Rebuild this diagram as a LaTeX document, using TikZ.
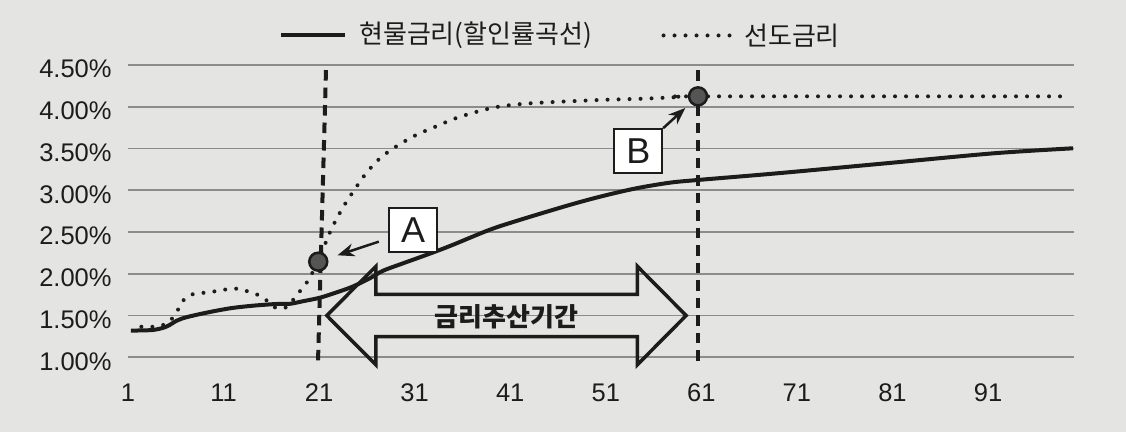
\documentclass[tikz,border=0pt]{standalone}
\usepackage{fontspec}
\setmainfont{Liberation Sans}
\newfontfamily\krfont{Noto Sans CJK KR}
\usetikzlibrary{arrows.meta}
\definecolor{bgcol}{RGB}{228,228,227}
\definecolor{gridcol}{RGB}{140,140,140}
\definecolor{inkcol}{RGB}{28,28,28}
\definecolor{dotcol}{RGB}{85,85,85}

\begin{document}
\begin{tikzpicture}[x=9.556pt, y=83.5pt,
    gridline/.style={gridcol, line width=1.6pt},
    spot/.style={inkcol, line width=4pt, line join=round},
    fwd/.style={inkcol, line width=4pt, line cap=round, dash pattern=on 0pt off 11pt},
    markline/.style={inkcol, line width=4pt, dash pattern=on 10.5pt off 7pt},
    span/.style={inkcol, line width=3.5pt, line join=miter},
    ticklabel/.style={font=\fontsize{25.5}{30}\selectfont, text=inkcol, inner sep=0pt},
    legendtext/.style={font=\krfont\fontsize{26}{30}\selectfont, text=inkcol, inner sep=0pt, anchor=west},
    spantext/.style={font=\krfont\bfseries\fontsize{26}{30}\selectfont, text=inkcol, inner sep=0pt},
    point/.style={circle, draw=inkcol, fill=dotcol, line width=2.5pt, minimum size=18pt, inner sep=0pt},
    tagbox/.style={rectangle, draw=inkcol, fill=white, line width=1.8pt, minimum width=48pt, minimum height=44pt, inner sep=0pt, font=\fontsize{36}{40}\selectfont, text=inkcol},
    arrow/.style={inkcol, line width=2.5pt, -{Stealth[length=17pt, width=13pt]}}
  ]
    % Background
    \path[use as bounding box, fill=bgcol] (-12.395,0.1054) rectangle (105.44,5.279);

    % Grid
    \draw[gridline] (1,1) -- (100,1);
    \draw[gridline] (1,1.5) -- (100,1.5);
    \draw[gridline] (1,2) -- (100,2);
    \draw[gridline] (1,2.5) -- (100,2.5);
    \draw[gridline] (1,3) -- (100,3);
    \draw[gridline] (1,3.5) -- (100,3.5);
    \draw[gridline] (1,4) -- (100,4);
    \draw[gridline] (1,4.5) -- (100,4.5);

    % Axis labels
    \node (y_100) [ticklabel, anchor=east, yshift=-4pt] at (-0.7,1) {1.00\%};
    \node (y_150) [ticklabel, anchor=east, yshift=-4pt] at (-0.7,1.5) {1.50\%};
    \node (y_200) [ticklabel, anchor=east, yshift=-4pt] at (-0.7,2) {2.00\%};
    \node (y_250) [ticklabel, anchor=east, yshift=-4pt] at (-0.7,2.5) {2.50\%};
    \node (y_300) [ticklabel, anchor=east, yshift=-4pt] at (-0.7,3) {3.00\%};
    \node (y_350) [ticklabel, anchor=east, yshift=-4pt] at (-0.7,3.5) {3.50\%};
    \node (y_400) [ticklabel, anchor=east, yshift=-4pt] at (-0.7,4) {4.00\%};
    \node (y_450) [ticklabel, anchor=east, yshift=-4pt] at (-0.7,4.5) {4.50\%};
    \node (x_1) [ticklabel] at (1,0.576) {1};
    \node (x_11) [ticklabel] at (11,0.576) {11};
    \node (x_21) [ticklabel] at (21,0.576) {21};
    \node (x_31) [ticklabel] at (31,0.576) {31};
    \node (x_41) [ticklabel] at (41,0.576) {41};
    \node (x_51) [ticklabel] at (51,0.576) {51};
    \node (x_61) [ticklabel] at (61,0.576) {61};
    \node (x_71) [ticklabel] at (71,0.576) {71};
    \node (x_81) [ticklabel] at (81,0.576) {81};
    \node (x_91) [ticklabel] at (91,0.576) {91};

    % Forward rate
    \draw[fwd] plot[smooth, tension=0.5] coordinates {(2.4,1.366) (3.75,1.366) (5.0,1.400) (5.73,1.479) (6.36,1.594) (7.03,1.714) (8.11,1.766) (9.29,1.774) (10.48,1.798) (11.63,1.818) (12.78,1.818) (13.85,1.774) (14.9,1.734) (15.7,1.662) (16.43,1.594) (17.1,1.585) (17.75,1.611) (18.48,1.719) (19.18,1.818) (19.88,1.926) (20.89,2.145) (21.41,2.293) (22.29,2.537) (23.5,2.796) (24.77,3.019) (25.97,3.211) (27.4,3.387) (29.19,3.534) (31.15,3.662) (33.18,3.762) (35.27,3.862) (37.52,3.941) (39.77,4.001) (43.11,4.042) (50.2,4.081) (55.0,4.097) (58.84,4.118) (60.65,4.125) (98.84,4.125)};

    % Spot rate
    \draw[spot] plot[smooth, tension=0.5] coordinates {(1.3,1.320) (3.6,1.327) (5.0,1.366) (6.1,1.438) (7.1,1.479) (9.2,1.534) (11.7,1.587) (14.1,1.618) (16.5,1.638) (17.9,1.640) (19.3,1.671) (21.1,1.714) (22.9,1.780) (24.5,1.846) (26.3,1.946) (27.7,2.037) (29.8,2.126) (32.2,2.225) (34.7,2.333) (38.8,2.525) (42.0,2.645) (47.2,2.824) (50.7,2.932) (54.2,3.024) (57.7,3.091) (60.6,3.123) (69.0,3.204) (80.3,3.323) (91.6,3.443) (99.9,3.503)};

    % Period markers
    \coordinate (m21_top) at (21.72,4.44);
    \coordinate (m21_bot) at (20.88,0.93);
    \coordinate (m61_top) at (60.65,4.44);
    \coordinate (m61_bot) at (60.65,0.92);
    \draw[markline] (m21_top) -- (m21_bot);
    \draw[markline] (m61_top) -- (m61_bot);

    % Span arrow
    \draw[span] (21.8,1.5) -- (26.95,2.09) -- (26.95,1.754) -- (54.3,1.754) -- (54.3,2.09) -- (59.41,1.5) -- (54.3,0.91) -- (54.3,1.246) -- (26.95,1.246) -- (26.95,0.91) -- cycle;
    \node (span_label) [spantext] at (40.6,1.487) {금리추산기간};

    % Points and tags
    \node (pt_a) [point] at (20.91,2.145) {};
    \node (pt_b) [point] at (60.65,4.125) {};
    \node (box_a) [tagbox] at (30.85,2.521) {A};
    \node (box_b) [tagbox] at (54.4,3.471) {B};
    \draw[arrow, shorten <=10pt, shorten >=10pt] (box_a) -- (pt_a);
    \draw[arrow, shorten >=7pt] (box_b) -- (pt_b);

    % Legend
    \coordinate (leg_s1) at (17.01,4.854);
    \coordinate (leg_s2) at (23.71,4.854);
    \coordinate (leg_f1) at (57.04,4.854);
    \coordinate (leg_f2) at (64.0,4.854);
    \draw[spot] (leg_s1) -- (leg_s2);
    \draw[fwd] (leg_f1) -- (leg_f2);
    \node (leg_spot) [legendtext] at (25.17,4.854) {현물금리(할인률곡선)};
    \node (leg_fwd) [legendtext] at (65.46,4.854) {선도금리};

  \end{tikzpicture}
\end{document}
